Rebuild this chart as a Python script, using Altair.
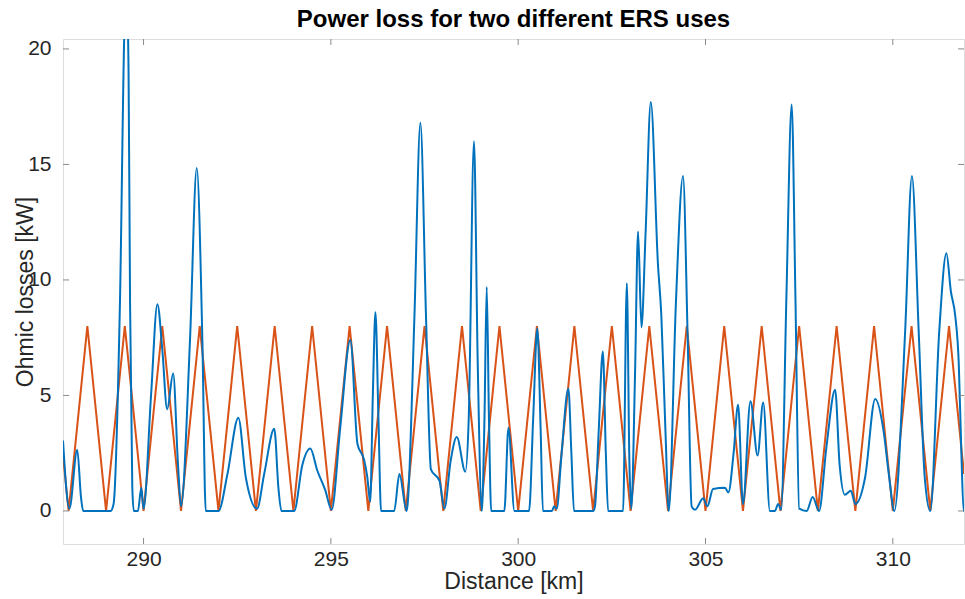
import altair as alt
import pandas as pd

# ---- data ----
blue_x = [287.85, 288.02, 288.23, 288.33, 288.39, 289.12, 289.2, 289.37, 289.5, 289.55, 289.6, 289.64, 289.7, 289.74,
          289.85, 289.94, 290.0, 290.2, 290.37, 290.5, 290.63, 290.79, 290.92, 291.0, 291.24, 291.42, 291.57, 291.66,
          292.0, 292.24, 292.53, 292.73, 293.03, 293.22, 293.49, 293.6, 293.68,
          294.02, 294.24, 294.45, 294.64, 294.85, 295.02, 295.25, 295.52, 295.71, 295.89, 295.97, 296.05,
          296.12, 296.19, 296.27, 296.34, 296.69, 296.83, 297.02,
          297.05, 297.23, 297.39, 297.54, 297.67, 297.9, 298.03, 298.2, 298.36, 298.59,
          298.68, 298.82, 298.92, 299.03, 299.1, 299.16, 299.22, 299.28, 299.63, 299.74, 299.9,
          300.29, 300.4, 300.51, 300.6, 300.66, 300.9, 300.96, 301.03, 301.15, 301.34, 301.42, 301.49,
          302.0, 302.05, 302.15, 302.26, 302.34, 302.4, 302.8, 302.9, 302.97, 303.02,
          303.12, 303.2, 303.29, 303.4, 303.54, 303.73, 303.82, 303.93, 304.02,
          304.21, 304.4, 304.52, 304.63, 304.72, 304.94, 305.05, 305.2, 305.52, 305.61, 305.75, 305.87,
          306.0, 306.2, 306.39, 306.54, 306.72, 306.85, 306.94, 307.02,
          307.16, 307.3, 307.4, 307.5, 307.7, 307.86, 308.03,
          308.23, 308.46, 308.58, 308.72, 308.88, 309.0, 309.26, 309.53, 309.75, 309.9, 310.04,
          310.33, 310.51, 310.69, 310.85, 311.0, 311.24, 311.43, 311.55, 311.67, 311.76, 311.83, 311.89, 311.9]
blue_y = [3.05, 0.1, 2.65, 0.6, 0.0, 0.0, 0.3, 9.0, 21.5, 22.5, 19.0, 9.0, 1.0, 0.0,
          0.0, 1.0, 0.1, 5.0, 8.95, 7.0, 4.4, 5.95, 2.0, 0.2, 7.4, 14.85, 7.4, 0.0,
          0.0, 1.6, 4.04, 1.45, 0.1, 1.6, 3.56, 1.0, 0.0,
          0.0, 2.0, 2.7, 1.74, 0.9, 0.05, 3.6, 7.4, 2.9, 2.2, 1.5, 0.4,
          5.0, 8.6, 4.0, 0.0, 0.0, 1.6, 0.0,
          0.3, 8.4, 16.8, 8.4, 1.8, 1.3, 0.1, 2.2, 3.2, 1.7,
          4.0, 16.0, 6.4, 0.0, 4.0, 9.7, 4.0, 0.0, 0.0, 3.6, 0.0,
          0.0, 4.0, 7.9, 3.5, 0.0, 0.0, 0.2, 0.1, 2.3, 5.3, 2.5, 0.0,
          0.0, 0.2, 3.5, 6.9, 2.5, 0.0, 0.0, 9.86, 2.0, 0.1,
          6.0, 12.1, 7.95, 12.0, 17.7, 10.7, 8.5, 3.5, 0.0,
          9.0, 14.5, 7.8, 0.2, 0.05, 0.55, 0.2, 0.95, 1.0, 0.8, 2.5, 4.6,
          0.3, 4.75, 2.4, 4.7, 0.0, 0.0, 0.3, 0.05,
          9.3, 17.6, 9.3, 0.1, 0.0, 0.6, 0.0,
          2.8, 5.25, 2.0, 0.7, 0.87, 0.3, 1.45, 4.85, 3.5, 1.5, 0.0,
          7.8, 14.5, 7.8, 1.5, 0.0, 7.8, 11.16, 9.5, 8.4, 6.4, 2.5, 0.0, 0.0]

orange_x = [287.85, 288.0, 288.5, 289.0, 289.5, 290.0, 290.5, 291.0, 291.5, 292.0, 292.5, 293.0, 293.5,
            294.0, 294.5, 295.0, 295.5, 296.0, 296.5, 297.0, 297.5, 298.0, 298.5, 299.0, 299.5,
            300.0, 300.5, 301.0, 301.5, 302.0, 302.5, 303.0, 303.5, 304.0, 304.5, 305.0, 305.5,
            306.0, 306.5, 307.0, 307.5, 308.0, 308.5, 309.0, 309.5, 310.0, 310.5, 311.0, 311.5, 311.9]
orange_y = [2.4, 0, 8, 0, 8, 0, 8, 0, 8, 0, 8, 0, 8,
            0, 8, 0, 8, 0, 8, 0, 8, 0, 8, 0, 8,
            0, 8, 0, 8, 0, 8, 0, 8, 0, 8, 0, 8,
            0, 8, 0, 8, 0, 8, 0, 8, 0, 8, 0, 8, 1.6]

x_ticks = [290, 295, 300, 305, 310]
y_ticks = [0, 5, 10, 15, 20]

X_DOMAIN = [287.85, 311.9]
Y_DOMAIN = [-1.43, 20.43]
W, H = 901, 505
FONT = "Liberation Sans"
TXT = "#262626"
FRAME = "#8a8a8a"

blue = pd.DataFrame({"x": blue_x, "y": blue_y})
orange = pd.DataFrame({"x": orange_x, "y": orange_y})
xt = pd.DataFrame({"t": x_ticks})
yt = pd.DataFrame({"t": y_ticks})

xscale = alt.Scale(domain=X_DOMAIN, nice=False, zero=False)
yscale = alt.Scale(domain=Y_DOMAIN, nice=False, zero=False)

xaxis = alt.Axis(values=x_ticks, format="d", ticks=False, domain=False, grid=False,
                 labelFontSize=21, labelFont=FONT, labelColor=TXT, labelPadding=4,
                 title="Distance [km]", titleFont=FONT, titleFontSize=23,
                 titleFontWeight="normal", titleColor=TXT, titlePadding=1)
yaxis = alt.Axis(values=y_ticks, format="d", ticks=False, domain=False, grid=False,
                 labelFontSize=21, labelFont=FONT, labelColor=TXT, labelPadding=12,
                 title="Ohmic losses [kW]", titleFont=FONT, titleFontSize=23,
                 titleFontWeight="normal", titleColor=TXT,
                 titleX=-38, titleBaseline="middle", titleAngle=-90)

orange_line = alt.Chart(orange).mark_line(color="#D95319", strokeWidth=2, clip=True).encode(
    x=alt.X("x:Q", scale=xscale, axis=xaxis),
    y=alt.Y("y:Q", scale=yscale, axis=yaxis),
)
blue_line = alt.Chart(blue).mark_line(color="#0072BD", strokeWidth=2, clip=True,
                                      interpolate="monotone").encode(
    x=alt.X("x:Q", scale=xscale),
    y=alt.Y("y:Q", scale=yscale),
)

xt_bottom = alt.Chart(xt).mark_rule(color=FRAME, strokeWidth=1).encode(
    x=alt.X("t:Q", scale=xscale), y=alt.value(H), y2=alt.value(H - 6))
xt_top = alt.Chart(xt).mark_rule(color=FRAME, strokeWidth=1).encode(
    x=alt.X("t:Q", scale=xscale), y=alt.value(0), y2=alt.value(6))
yt_left = alt.Chart(yt).mark_rule(color=FRAME, strokeWidth=1).encode(
    y=alt.Y("t:Q", scale=yscale), x=alt.value(0), x2=alt.value(6))
yt_right = alt.Chart(yt).mark_rule(color=FRAME, strokeWidth=1).encode(
    y=alt.Y("t:Q", scale=yscale), x=alt.value(W), x2=alt.value(W - 6))

chart = alt.layer(orange_line, blue_line, xt_bottom, xt_top, yt_left, yt_right).properties(
    width=W, height=H,
    title=alt.TitleParams("Power loss for two different ERS uses", font=FONT, fontSize=24,
                          fontWeight="bold", color="#000000", anchor="middle", offset=6),
    autosize=alt.AutoSizeParams(type="none"),
    padding={"left": 63, "top": 39, "right": 1, "bottom": 55},
).configure_view(stroke=FRAME, strokeWidth=1).configure(background="white")

chart.save("out.html", embed_options={"renderer": "svg", "actions": False})
